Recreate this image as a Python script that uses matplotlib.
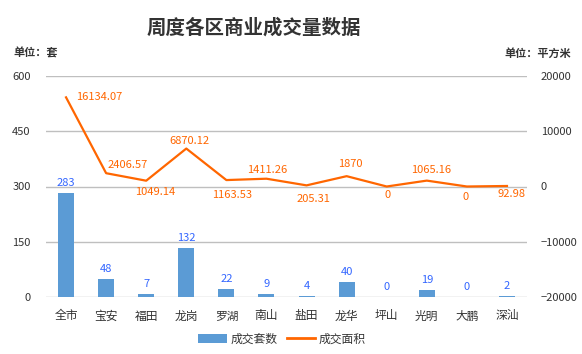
import matplotlib
matplotlib.use("Agg")
import matplotlib.pyplot as plt
from matplotlib.lines import Line2D
from matplotlib.patches import Patch

plt.rcParams['font.family'] = ['Noto Sans CJK SC', 'DejaVu Sans']

categories = ['全市', '宝安', '福田', '龙岗', '罗湖', '南山', '盐田', '龙华', '坪山', '光明', '大鹏', '深汕']
units_sold = [283, 48, 7, 132, 22, 9, 4, 40, 0, 19, 0, 2]
area = [16134.07, 2406.57, 1049.14, 6870.12, 1163.53, 1411.26, 205.31, 1870, 0, 1065.16, 0, 92.98]
area_labels = ['16134.07', '2406.57', '1049.14', '6870.12', '1163.53', '1411.26', '205.31', '1870', '0', '1065.16', '0', '92.98']
left_ticks = [0, 150, 300, 450, 600]
right_ticks = [-20000, -10000, 0, 10000, 20000]

# label offsets (pixels) for line labels - styling only
line_offsets = [(33, 0), (22, 8), (9, -11), (3, 8), (6, -15), (1, 9),
                (7, -14), (4, 12), (1, -8), (4, 11), (-1, -10), (5, -8)]

W, H = 582, 354
fig = plt.figure(figsize=(W / 100, H / 100), dpi=100)
ax = fig.add_axes([46 / W, 1 - 297 / H, (527 - 46) / W, (297 - 76) / H])
ax2 = ax.twinx()

bar_color = '#5B9BD5'
line_color = '#FF6600'
grid_color = '#BFBFBF'
text_color = '#333333'

x = list(range(len(categories)))
ax.bar(x, units_sold, width=0.4, color=bar_color, zorder=2)
ax.set_xlim(-0.5, len(categories) - 0.5)
ax.set_ylim(0, 600)
ax.set_yticks(left_ticks)
ax.set_xticks(x)
ax.set_xticklabels(categories, fontsize=8.5, color=text_color)
ax.yaxis.grid(True, color=grid_color, linewidth=1, zorder=0)
ax.set_axisbelow(True)
for s in ax.spines.values():
    s.set_visible(False)
ax.tick_params(axis='both', length=0, labelsize=8, colors=text_color)
ax.tick_params(axis='y', pad=11)
ax.tick_params(axis='x', pad=9, labelsize=8.5)

for xi, v in zip(x, units_sold):
    ax.annotate(str(v), (xi, v), xytext=(0, 10), textcoords='offset pixels',
                ha='center', va='center', fontsize=8, color='#3366FF')

ax2.plot(x, area, color=line_color, linewidth=1.6, zorder=3)
ax2.set_ylim(-20000, 20000)
ax2.set_yticks(right_ticks)
for s in ax2.spines.values():
    s.set_visible(False)
ax2.tick_params(axis='y', length=0, labelsize=8, colors=text_color, pad=10)

for xi, v, lab, off in zip(x, area, area_labels, line_offsets):
    ax2.annotate(lab, (xi, v), xytext=off, textcoords='offset pixels',
                 ha='center', va='center', fontsize=8, color=line_color)

fig.text(254 / W, 1 - 28 / H, '周度各区商业成交量数据', ha='center', va='center',
         fontsize=14, fontweight='bold', color='#333333')
fig.text(13 / W, 1 - 53 / H, '单位：套', ha='left', va='center', fontsize=8,
         fontweight='bold', color='#333333')
fig.text(571 / W, 1 - 53 / H, '单位：平方米', ha='right', va='center', fontsize=8,
         fontweight='bold', color='#333333')

handles = [Patch(facecolor=bar_color, edgecolor='none'),
           Line2D([0], [0], color=line_color, linewidth=2)]
fig.legend(handles, ['成交套数', '成交面积'], loc='center', ncol=2,
           bbox_to_anchor=(282 / W, 1 - 339 / H), frameon=False, fontsize=8.5,
           handlelength=2.4, handleheight=0.7, handletextpad=0.3, columnspacing=0.8,
           labelcolor=text_color)

fig.savefig('out.png', dpi=100)
